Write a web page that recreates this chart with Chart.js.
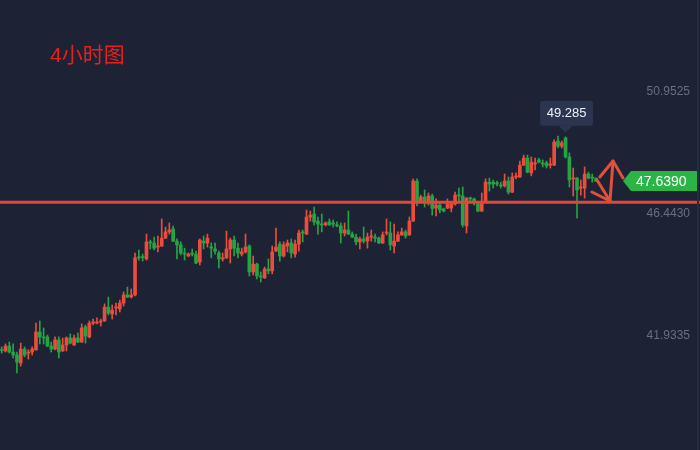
<!DOCTYPE html>
<html>
<head>
<meta charset="utf-8">
<script src="https://cdn.jsdelivr.net/npm/chart.js@4/dist/chart.umd.min.js"></script>
<style>
html,body{margin:0;padding:0;background:#1d2335;}
#wrap{width:700px;height:450px;position:relative;}
canvas{display:block;}
</style>
</head>
<body>
<div id="wrap"><canvas id="c"></canvas></div>
<script>
const chartTitle = '4小时图';
const opens = [41.42,41.37,41.55,41.33,41.22,40.92,41.44,41.29,41.33,41.41,42.07,41.89,41.89,41.55,41.44,41.78,41.37,41.59,41.85,41.59,41.85,41.70,42.26,41.89,42.40,42.40,42.44,42.48,42.99,42.74,42.96,42.92,43.14,43.44,43.36,43.44,44.84,44.86,44.77,45.40,45.36,45.21,45.25,45.54,45.77,45.88,45.43,45.29,44.99,44.88,44.99,44.95,44.66,45.43,45.36,45.21,45.14,44.99,44.77,44.81,45.14,45.47,45.17,44.95,45.03,45.25,44.29,44.58,44.14,44.07,44.40,44.33,45.06,45.32,44.88,45.25,45.36,44.95,45.32,45.77,45.69,46.32,46.43,46.17,46.06,46.03,46.14,46.10,46.03,45.99,45.73,45.84,45.69,45.58,45.40,45.51,45.43,45.58,45.58,45.54,45.36,45.73,45.73,45.25,45.43,45.66,45.77,45.66,46.17,47.65,46.91,47.06,46.84,47.10,46.65,46.76,46.62,46.65,46.65,46.80,47.13,47.10,45.99,47.02,46.99,46.80,46.54,46.88,47.61,47.61,47.58,47.50,47.47,47.65,47.24,47.80,47.80,48.24,48.50,47.95,48.28,48.43,48.32,48.32,48.24,48.24,49.13,48.94,49.24,48.54,47.73,47.76,47.39,47.39,47.91,47.80,47.76];
const highs = [41.52,41.63,41.70,41.63,41.33,41.66,41.52,41.41,41.52,42.40,42.48,42.22,41.96,41.70,41.89,41.89,41.85,41.89,42.00,41.96,42.03,42.37,42.33,42.48,42.55,42.59,42.55,43.11,43.36,43.07,43.14,43.25,43.55,43.73,43.66,44.99,45.10,44.95,45.69,45.47,45.58,45.62,46.25,45.95,46.10,45.99,45.51,45.40,45.17,44.99,45.14,45.06,45.51,45.62,45.69,45.36,45.36,45.06,44.99,45.80,45.54,45.62,45.36,45.17,45.69,45.29,44.88,44.62,44.29,44.47,44.77,45.25,45.91,45.40,45.40,45.47,45.51,45.47,45.84,45.84,46.58,46.54,46.69,46.32,46.43,46.14,46.25,46.21,46.14,46.10,46.10,46.54,45.77,45.69,45.58,45.95,45.73,45.84,45.69,45.58,45.77,46.25,46.14,46.06,45.77,45.91,45.84,46.32,47.73,47.73,47.13,47.32,47.21,47.17,46.99,46.88,46.65,46.99,46.88,47.24,47.39,47.43,47.04,47.06,47.02,46.88,47.21,47.73,47.76,47.69,47.65,47.61,47.91,47.80,47.95,47.95,48.39,48.61,48.61,48.54,48.50,48.50,48.43,48.39,48.50,49.17,49.31,49.13,49.285,48.69,48.13,47.78,47.69,48.17,47.98,47.91,47.76];
const lows = [41.29,41.33,41.29,41.11,40.56,40.81,41.15,41.07,41.22,41.40,41.63,41.63,41.53,41.33,41.41,41.11,41.35,41.37,41.63,41.57,41.68,41.68,41.66,41.85,42.33,42.37,42.29,42.46,42.70,42.55,42.70,42.81,43.03,43.34,43.33,43.40,44.73,44.69,44.73,45.14,45.10,45.03,45.23,45.52,45.69,45.41,44.77,44.92,44.73,44.86,44.88,44.60,44.55,45.14,45.21,44.81,44.95,44.44,44.69,44.79,44.62,44.88,44.81,44.88,44.99,44.14,44.18,44.03,43.92,44.05,44.22,44.22,45.04,44.69,44.84,45.03,44.81,44.84,45.06,45.40,45.67,46.17,46.03,45.69,45.77,45.99,46.01,45.95,45.95,45.36,45.62,45.67,45.56,45.29,45.14,45.36,45.17,45.43,45.40,45.34,45.34,45.66,45.10,44.99,45.41,45.64,45.54,45.64,46.15,46.73,46.88,46.69,46.76,46.39,46.36,46.47,46.51,46.63,46.51,46.76,46.88,45.95,45.73,46.91,46.76,46.52,46.52,46.86,47.28,47.39,47.47,47.39,47.43,47.17,47.22,47.73,47.78,48.22,47.95,47.84,48.06,48.32,48.17,48.13,48.13,48.22,48.87,48.87,48.50,47.43,47.10,46.28,47.13,47.02,47.73,47.61,47.64];
const closes = [41.39,41.55,41.33,41.22,40.96,41.44,41.22,41.33,41.44,42.07,41.89,41.85,41.55,41.44,41.78,41.33,41.59,41.85,41.66,41.85,41.70,42.22,41.92,42.40,42.44,42.44,42.48,42.99,42.77,42.88,42.99,43.14,43.44,43.36,43.44,44.81,44.81,44.82,45.40,45.36,45.17,45.25,45.54,45.77,45.84,45.43,45.29,44.99,44.95,44.95,44.95,44.62,45.47,45.36,45.54,45.17,45.06,44.77,44.81,45.14,45.47,45.17,44.99,45.03,45.21,44.29,44.58,44.14,44.10,44.40,44.33,45.03,45.21,44.88,45.29,45.36,44.99,45.32,45.73,45.73,46.32,46.39,46.14,46.06,46.03,46.10,46.03,46.06,45.99,45.73,45.84,45.69,45.58,45.40,45.51,45.43,45.58,45.62,45.54,45.36,45.66,45.77,45.29,45.43,45.66,45.77,45.62,46.17,47.65,46.84,47.06,46.88,47.10,46.64,46.76,46.58,46.54,46.80,46.80,47.13,47.10,46.03,47.02,46.99,46.88,46.54,46.88,47.61,47.54,47.54,47.54,47.47,47.65,47.24,47.80,47.84,48.24,48.50,47.98,48.35,48.32,48.35,48.28,48.21,48.28,49.09,48.94,49.06,48.54,47.69,47.76,47.32,47.43,47.91,47.76,47.76,47.64];
const yTickValues = [41.9335, 46.4430, 50.9525];
const lastPrice = 47.639;
const peakIndex = 148;
const levelPrice = 46.864;
// hand-drawn arrow strokes, as [index, price] points
const arrowStrokes = [
  [[154.9,47.245],[159.66,46.912]],
  [[156.25,47.689],[159.66,46.912]],
  [[159.66,46.912],[160.45,48.391]],
  [[157.0,47.80],[160.45,48.391],[163.07,47.763]]
];

const UP = '#eb4d3d', DOWN = '#25a443';
const idx = opens.map((_, i) => i);
const colors = idx.map(i => closes[i] >= opens[i] ? UP : DOWN);

const datasets = [
  {
    type: 'line', order: 0,
    data: [{x: -5, y: levelPrice}, {x: 200, y: levelPrice}],
    borderColor: '#e0483a', borderWidth: 3, pointRadius: 0, fill: false
  },
  ...arrowStrokes.map(s => ({
    type: 'line', order: 0,
    data: s.map(p => ({x: p[0], y: p[1]})),
    borderColor: '#e2503b', borderWidth: 3, pointRadius: 0, fill: false,
    borderCapStyle: 'round', borderJoinStyle: 'round', tension: 0
  })),
  {
    type: 'bar', order: 2, grouped: false,
    data: idx.map(i => ({x: i, y: [lows[i], highs[i]]})),
    backgroundColor: colors, barThickness: 1, borderWidth: 0
  },
  {
    type: 'bar', order: 1, grouped: false,
    data: idx.map(i => ({x: i, y: [opens[i], closes[i]]})),
    backgroundColor: colors, barThickness: 3, borderWidth: 0, minBarLength: 1
  }
];

const overlay = {
  id: 'overlay',
  beforeDraw(chart) {
    const {ctx} = chart;
    ctx.save();
    ctx.fillStyle = '#1d2335';
    ctx.fillRect(0, 0, chart.width, chart.height);
    ctx.restore();
  },
  afterDatasetsDraw(chart) {
    const {ctx, chartArea, scales: {x, y}} = chart;
    ctx.save();
    // title
    ctx.font = '21px "Liberation Sans", "Noto Sans CJK SC", sans-serif';
    ctx.fillStyle = '#e8201c';
    ctx.textAlign = 'left';
    ctx.textBaseline = 'alphabetic';
    ctx.fillText(chartTitle, 50, 62);
    // right border
    ctx.fillStyle = '#262d40';
    ctx.fillRect(chartArea.right - 3, 0, 2, chart.height);
    // last price tag
    const py = Math.round(y.getPixelForValue(lastPrice));
    const r = chartArea.right - 3, l = r - 66, tip = l - 8;
    ctx.fillStyle = '#2bb546';
    ctx.beginPath();
    ctx.moveTo(tip, py); ctx.lineTo(l, py - 10); ctx.lineTo(r, py - 10);
    ctx.lineTo(r, py + 10); ctx.lineTo(l, py + 10); ctx.closePath(); ctx.fill();
    ctx.fillStyle = '#ffffff';
    ctx.font = '14px "Liberation Sans", sans-serif';
    ctx.textBaseline = 'middle';
    ctx.fillText(lastPrice.toFixed(4), l + 5, py + 1);
    // peak tooltip
    const hx = x.getPixelForValue(peakIndex);
    const hy = y.getPixelForValue(highs[peakIndex]);
    const tipY = hy - 4, bb = tipY - 7, bt = bb - 25, bw = 53;
    const bl = hx - bw / 2 + 1;
    ctx.fillStyle = '#2b3550';
    ctx.beginPath();
    if (ctx.roundRect) ctx.roundRect(bl, bt, bw, 25, 3); else ctx.rect(bl, bt, bw, 25);
    ctx.fill();
    ctx.beginPath();
    ctx.moveTo(hx - 7, bb); ctx.lineTo(hx + 7, bb); ctx.lineTo(hx, tipY); ctx.closePath(); ctx.fill();
    ctx.fillStyle = '#eef1f6';
    ctx.font = '13px "Liberation Sans", sans-serif';
    ctx.textAlign = 'center';
    ctx.textBaseline = 'middle';
    ctx.fillText(highs[peakIndex].toFixed(3), bl + bw / 2, bt + 13);
    ctx.restore();
  }
};

new Chart(document.getElementById('c'), {
  type: 'bar',
  data: {datasets},
  options: {
    responsive: true,
    maintainAspectRatio: false,
    animation: false,
    devicePixelRatio: 1,
    layout: {padding: 0},
    plugins: {legend: {display: false}, tooltip: {enabled: false}, title: {display: false}},
    events: [],
    scales: {
      x: {
        type: 'linear', display: false, offset: false,
        min: -0.446, max: 183.28
      },
      y: {
        type: 'linear', position: 'right',
        min: 37.709, max: 54.342,
        grid: {display: false, drawTicks: false},
        border: {display: false},
        afterBuildTicks: s => { s.ticks = yTickValues.map(v => ({value: v})); },
        afterFit: s => { s.width = 0; s.paddingTop = 0; s.paddingBottom = 0; },
        ticks: {
          mirror: true, padding: -10,
          color: '#686f80',
          font: {family: '"Liberation Sans", Arial, sans-serif', size: 12},
          callback: v => Number(v).toFixed(4)
        }
      }
    }
  },
  plugins: [overlay]
});
</script>
</body>
</html>
